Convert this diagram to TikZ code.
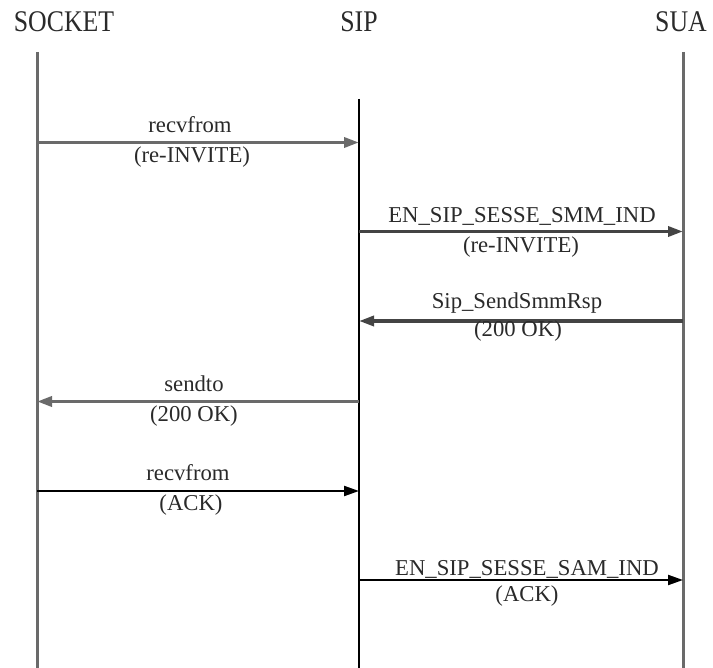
\documentclass[tikz,border=0pt]{standalone}
\usepackage{fontspec}
\setmainfont{Liberation Serif}
\newfontfamily\headfont{Liberation Serif}[FakeStretch=0.86]
\usetikzlibrary{arrows.meta}
\definecolor{lgray}{HTML}{6A6A6A}
\definecolor{dgray}{HTML}{444444}
\definecolor{txt}{HTML}{2A2A2A}
\tikzset{
  head/.style={anchor=base, inner sep=0pt, text=txt, font=\headfont\fontsize{30}{30}\selectfont},
  lbl/.style={anchor=base, inner sep=0pt, text=txt, font=\fontsize{22.7}{24}\selectfont},
  life/.style={line width=3pt, draw=lgray},
  lifek/.style={line width=1.8pt, draw=black},
  msg/.style={-{Triangle[length=15pt,width=10pt]}, line width=#1},
  msg/.default=3.4pt
}
\begin{document}
\begin{tikzpicture}[x=1pt,y=-1pt]
\useasboundingbox (0,0) rectangle (713,668);
% headers
\node[head] (hsock) at (64,32) {SOCKET};
\node[head] (hsip)  at (359,32) {SIP};
\node[head] (hsua)  at (681,32) {SUA};
% lifelines
\coordinate (sockT) at (37,52);  \coordinate (sockB) at (37,668);
\coordinate (sipT)  at (359,99); \coordinate (sipB)  at (359,668);
\coordinate (suaT)  at (683,52); \coordinate (suaB)  at (683,668);
\draw[life]  (sockT) -- (sockB);
\draw[lifek] (sipT) -- (sipB);
\draw[life]  (suaT) -- (suaB);
% message endpoints
\coordinate (a1s) at (37,142.5);  \coordinate (a1e) at (359,142.5);
\coordinate (a2s) at (359,231.5); \coordinate (a2e) at (683,231.5);
\coordinate (a3s) at (683,321);   \coordinate (a3e) at (359,321);
\coordinate (a4s) at (359,401.5); \coordinate (a4e) at (37,401.5);
\coordinate (a5s) at (37,491);    \coordinate (a5e) at (359,491);
\coordinate (a6s) at (359,580);   \coordinate (a6e) at (683,580);
% messages
\draw[msg, draw=lgray, fill=black] (a1s) -- (a1e);
\draw[msg, draw=dgray, fill=black] (a2s) -- (a2e);
\draw[msg, draw=dgray, fill=black] (a3s) -- (a3e);
\draw[msg, draw=lgray, fill=black] (a4s) -- (a4e);
\draw[msg=2.2pt, draw=black] (a5s) -- (a5e);
\draw[msg=2.2pt, draw=black] (a6s) -- (a6e);
% labels
\node[lbl] (l1a) at (190,133) {recvfrom};
\node[lbl] (l1b) at (192,163) {(re-INVITE)};
\node[lbl] (l2a) at (522,223) {EN\_SIP\_SESSE\_SMM\_IND};
\node[lbl] (l2b) at (521,253) {(re-INVITE)};
\node[lbl] (l3a) at (517,309) {Sip\_SendSmmRsp};
\node[lbl] (l3b) at (518,337) {(200 OK)};
\node[lbl] (l4a) at (194,392) {sendto};
\node[lbl] (l4b) at (194,422) {(200 OK)};
\node[lbl] (l5a) at (188,481) {recvfrom};
\node[lbl] (l5b) at (191,511) {(ACK)};
\node[lbl] (l6a) at (527,575) {EN\_SIP\_SESSE\_SAM\_IND};
\node[lbl] (l6b) at (527,601) {(ACK)};
\end{tikzpicture}
\end{document}
